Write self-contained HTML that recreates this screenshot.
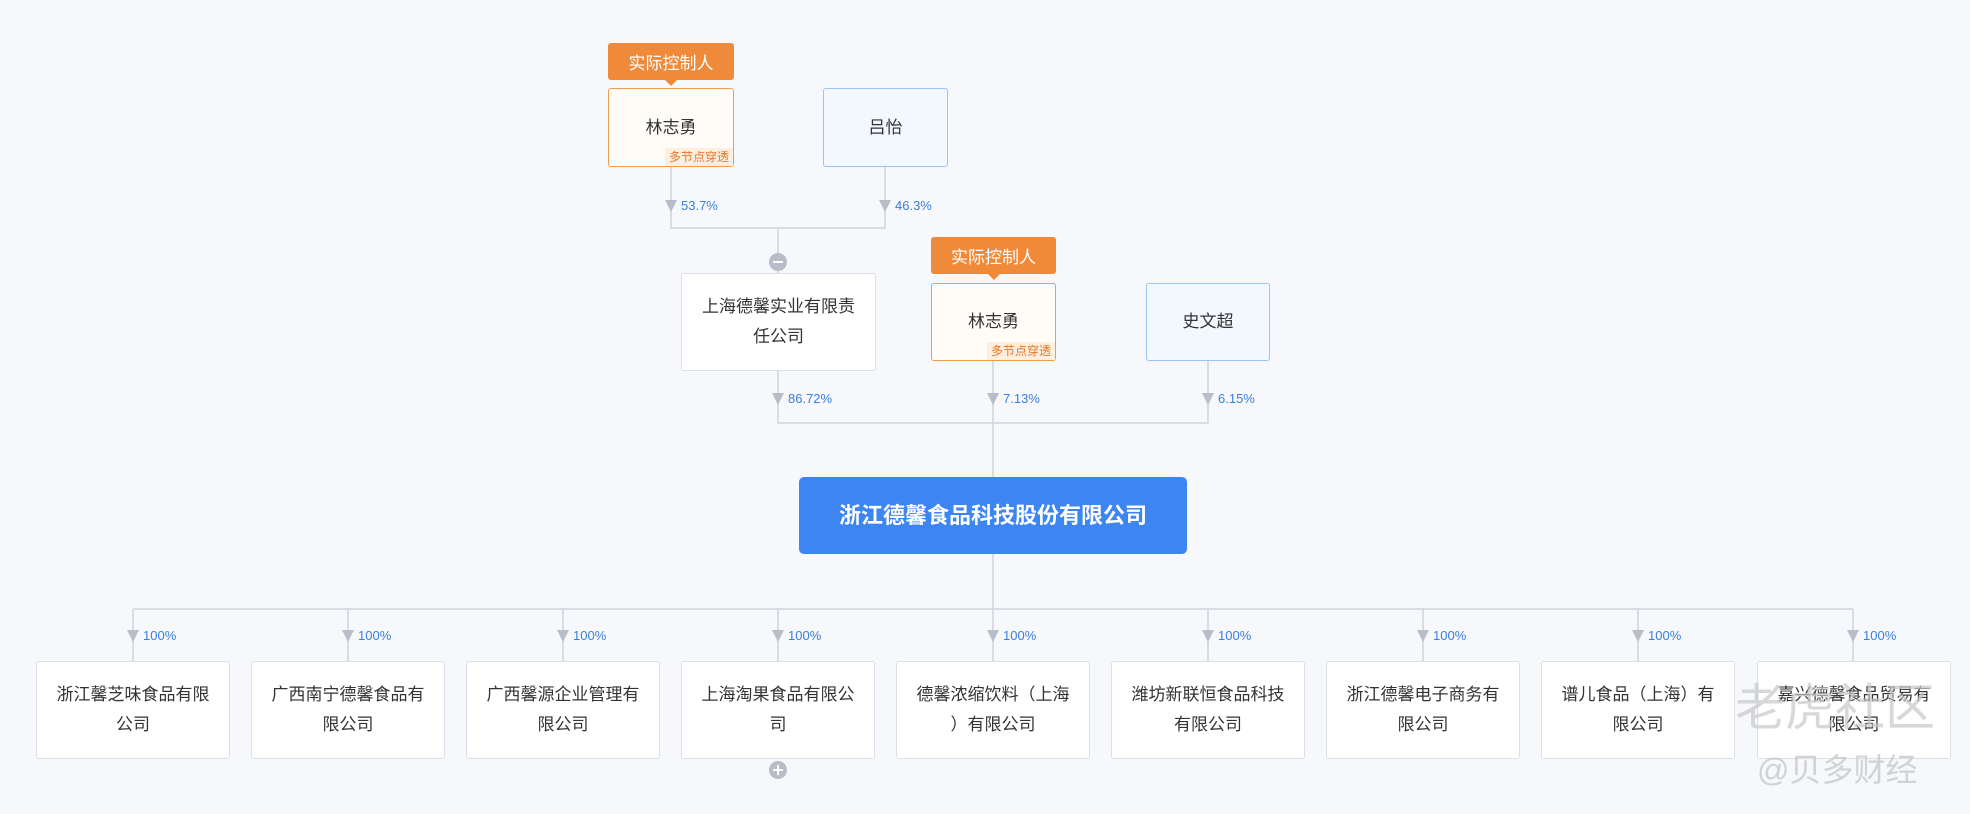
<!DOCTYPE html>
<html><head><meta charset="utf-8"><style>
*{margin:0;padding:0;box-sizing:border-box}
body{width:1970px;height:814px;background:#f6f8fb;position:relative;overflow:hidden;font-family:"Liberation Sans","Noto Sans CJK SC",sans-serif}
.b{position:absolute;background:#fff;border:1.5px solid #dcdfe6;border-radius:3px;display:flex;align-items:center;justify-content:center;text-align:center;font-size:17px;color:#333;line-height:30px;padding:0 12px}
.p{border-color:#f29a4e;background:#fffcf8}
.u{border-color:#9cc3f5;background:#f3f8ff}
.tag{position:absolute;background:#ef8a3a;color:#fff;font-size:17px;border-radius:3px;display:flex;align-items:center;justify-content:center}
.tag:after{content:"";position:absolute;left:50%;bottom:-6px;margin-left:-6px;border:6px solid transparent;border-bottom:0;border-top-color:#ef8a3a}
.ms{position:absolute;right:0;bottom:0;font-size:12px;color:#e8782a;background:#fdeedd;padding:0 4px;line-height:18px}
.pc{position:absolute;font-size:13px;color:#3a7fdc}
.wm{position:absolute;color:#ddd;font-size:40px;z-index:5}
</style></head><body>
<svg width="1970" height="814" style="position:absolute;left:0;top:0">
<g stroke="#cfd3db" stroke-width="1.5" fill="none">
<path d="M671 167V228H885V167M778 228V273"/>
<path d="M778 371V423H1208V361M993 361V477"/>
<path d="M993 554V609M133 609H1853"/>
<path d="M133 609V661M348 609V661M563 609V661M778 609V661M993 609V661M1208 609V661M1423 609V661M1638 609V661M1853 609V661"/>
</g>
<g fill="#b9bdc8">
<path d="M665 200h12l-6 12z"/><path d="M879 200h12l-6 12z"/>
<path d="M772 393h12l-6 12z"/><path d="M987 393h12l-6 12z"/><path d="M1202 393h12l-6 12z"/>
<path d="M127 630h12l-6 12z"/><path d="M342 630h12l-6 12z"/><path d="M557 630h12l-6 12z"/><path d="M772 630h12l-6 12z"/><path d="M987 630h12l-6 12z"/><path d="M1202 630h12l-6 12z"/><path d="M1417 630h12l-6 12z"/><path d="M1632 630h12l-6 12z"/><path d="M1847 630h12l-6 12z"/>
<circle cx="778" cy="262" r="9"/><circle cx="778" cy="770" r="9"/>
</g>
<path d="M773 262h10" stroke="#fff" stroke-width="2"/>
<path d="M773 770h10M778 765v10" stroke="#fff" stroke-width="2"/>
</svg>

<div class="tag" style="left:608px;top:43px;width:126px;height:37px">实际控制人</div>
<div class="b p" style="left:608px;top:88px;width:126px;height:79px">林志勇<span class="ms">多节点穿透</span></div>
<div class="b u" style="left:823px;top:88px;width:125px;height:79px">吕怡</div>
<div class="pc" style="left:681px;top:198px">53.7%</div>
<div class="pc" style="left:895px;top:198px">46.3%</div>

<div class="b" style="left:681px;top:273px;width:195px;height:98px">上海德馨实业有限责<br>任公司</div>
<div class="tag" style="left:931px;top:237px;width:125px;height:37px">实际控制人</div>
<div class="b p" style="left:931px;top:283px;width:125px;height:78px">林志勇<span class="ms">多节点穿透</span></div>
<div class="b u" style="left:1146px;top:283px;width:124px;height:78px">史文超</div>
<div class="pc" style="left:788px;top:391px">86.72%</div>
<div class="pc" style="left:1003px;top:391px">7.13%</div>
<div class="pc" style="left:1218px;top:391px">6.15%</div>

<div class="b" style="left:799px;top:477px;width:388px;height:77px;background:#3d85f0;border-color:#3d85f0;color:#fff;font-size:22px;font-weight:bold;border-radius:5px">浙江德馨食品科技股份有限公司</div>

<div class="pc" style="left:143px;top:628px">100%</div>
<div class="pc" style="left:358px;top:628px">100%</div>
<div class="pc" style="left:573px;top:628px">100%</div>
<div class="pc" style="left:788px;top:628px">100%</div>
<div class="pc" style="left:1003px;top:628px">100%</div>
<div class="pc" style="left:1218px;top:628px">100%</div>
<div class="pc" style="left:1433px;top:628px">100%</div>
<div class="pc" style="left:1648px;top:628px">100%</div>
<div class="pc" style="left:1863px;top:628px">100%</div>

<div class="b" style="left:36px;top:661px;width:194px;height:98px">浙江馨芝味食品有限<br>公司</div>
<div class="b" style="left:251px;top:661px;width:194px;height:98px">广西南宁德馨食品有<br>限公司</div>
<div class="b" style="left:466px;top:661px;width:194px;height:98px">广西馨源企业管理有<br>限公司</div>
<div class="b" style="left:681px;top:661px;width:194px;height:98px">上海淘果食品有限公<br>司</div>
<div class="b" style="left:896px;top:661px;width:194px;height:98px">德馨浓缩饮料（上海<br>）有限公司</div>
<div class="b" style="left:1111px;top:661px;width:194px;height:98px">潍坊新联恒食品科技<br>有限公司</div>
<div class="b" style="left:1326px;top:661px;width:194px;height:98px">浙江德馨电子商务有<br>限公司</div>
<div class="b" style="left:1541px;top:661px;width:194px;height:98px">谱儿食品（上海）有<br>限公司</div>
<div class="b" style="left:1757px;top:661px;width:194px;height:98px">嘉兴德馨食品贸易有<br>限公司</div>
<div class="wm" style="left:1735px;top:668px;color:rgba(200,200,200,0.7);font-size:50px">老虎社区</div>
<div class="wm" style="left:1757px;top:745px;color:rgba(200,200,200,0.8);font-size:32px">@贝多财经</div>
</body></html>
